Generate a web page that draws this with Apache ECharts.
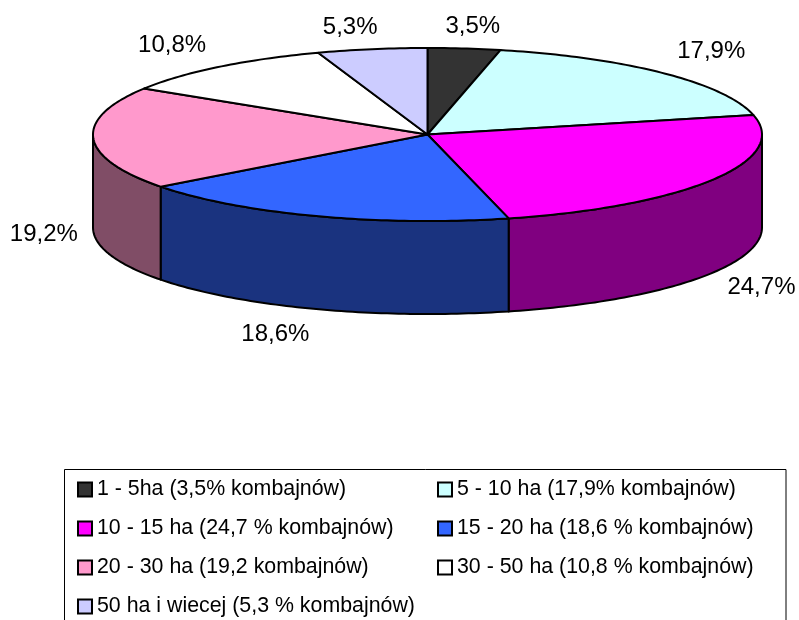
<!DOCTYPE html>
<html>
<head>
<meta charset="utf-8">
<style>html,body{margin:0;padding:0;background:#fff}#c{width:799px;height:620px}</style>
<script src="https://cdn.jsdelivr.net/npm/echarts@6/dist/echarts.min.js"></script>
</head>
<body>
<div id="c"></div>
<script>
const categories = [
  '1 - 5ha (3,5% kombajnów)',
  '5 - 10 ha (17,9% kombajnów)',
  '10 - 15 ha (24,7 % kombajnów)',
  '15 - 20 ha (18,6 % kombajnów)',
  '20 - 30 ha (19,2 kombajnów)',
  '30 - 50 ha (10,8 % kombajnów)',
  '50 ha i wiecej (5,3 % kombajnów)'
];
const values = [3.5, 17.9, 24.7, 18.6, 19.2, 10.8, 5.3];
const valueLabels = ['3,5%', '17,9%', '24,7%', '18,6%', '19,2%', '10,8%', '5,3%'];
const topColors = ['#333333', '#CCFFFF', '#FF00FF', '#3366FF', '#FF99CC', '#FFFFFF', '#CCCCFF'];
const sideColors = ['#1A1A1A', '#668080', '#800080', '#1A337F', '#804D66', '#808080', '#666680'];
const labelNudges = [[2, 2.5], [6, -4.5], [-2, 1.5], [-21, 2], [10, 1.5], [-10, -2.5], [-12, 2]];

const CX = 427.5, CY = 134.5, RX = 334.5, RY = 86.5, DEPTH = 93;
const LABEL_RX = 394, LABEL_RY = 111;
const total = values.reduce((a, b) => a + b, 0);
const rim = (deg, dy) => {
  const t = deg * Math.PI / 180;
  return [CX + RX * Math.sin(t), CY - RY * Math.cos(t) + dy];
};
const arc = (a, b, dy) => {
  const n = Math.max(2, Math.ceil(Math.abs(b - a)));
  const pts = [];
  for (let i = 0; i <= n; i++) pts.push(rim(a + (b - a) * i / n, dy));
  return pts;
};
const renderSlice = (params, api) => {
  const i = params.seriesIndex;
  const before = values.slice(0, i).reduce((a, b) => a + b, 0);
  const start = before / total * 360;
  const end = (before + api.value(0)) / total * 360;
  const lineStyle = { stroke: '#000', lineWidth: 2, lineJoin: 'round' };
  const children = [];
  const s = Math.max(start, 90), e = Math.min(end, 270);
  if (e > s) {
    children.push({
      type: 'polygon',
      shape: { points: arc(s, e, 0).concat(arc(e, s, DEPTH)) },
      style: Object.assign({ fill: sideColors[i] }, lineStyle)
    });
  }
  children.push({
    type: 'polygon',
    shape: { points: [[CX, CY]].concat(arc(start, end, 0)) },
    style: Object.assign({ fill: topColors[i] }, lineStyle)
  });
  const mid = (start + end) / 2 * Math.PI / 180;
  const front = Math.cos(mid) < 0 ? DEPTH : 0;
  children.push({
    type: 'text',
    style: {
      x: CX + LABEL_RX * Math.sin(mid) + labelNudges[i][0],
      y: CY - LABEL_RY * Math.cos(mid) + front + labelNudges[i][1],
      text: valueLabels[i],
      fill: '#000',
      font: '24px "Liberation Sans", Arial, sans-serif',
      textAlign: 'center',
      textVerticalAlign: 'middle'
    }
  });
  return { type: 'group', children };
};

const legendBase = {
  orient: 'vertical',
  top: 479,
  padding: 0,
  itemWidth: 14,
  itemHeight: 14,
  itemGap: 18,
  icon: 'rect',
  selectedMode: false,
  itemStyle: { borderColor: '#000', borderWidth: 2 },
  textStyle: { fontSize: 21.35, lineHeight: 21, color: '#000', fontFamily: '"Liberation Sans", Arial, sans-serif', padding: [0, 0, 0, 0] }
};

const chart = echarts.init(document.getElementById('c'), null, { renderer: 'canvas' });
chart.setOption({
  animation: false,
  backgroundColor: '#fff',
  legend: [
    Object.assign({}, legendBase, { left: 77, data: categories.filter((_, i) => i % 2 === 0) }),
    Object.assign({}, legendBase, { left: 437, data: categories.filter((_, i) => i % 2 === 1) })
  ],
  graphic: [{
    type: 'rect', silent: true, z: -1,
    shape: { x: 64.5, y: 469.5, width: 721.5, height: 200 },
    style: { fill: '#fff', stroke: '#000', lineWidth: 1 }
  }],
  series: categories.map((name, i) => ({
    type: 'custom',
    name,
    coordinateSystem: 'none',
    silent: true,
    itemStyle: { color: topColors[i] },
    data: [[values[i]]],
    renderItem: renderSlice
  }))
});
</script>
</body>
</html>
